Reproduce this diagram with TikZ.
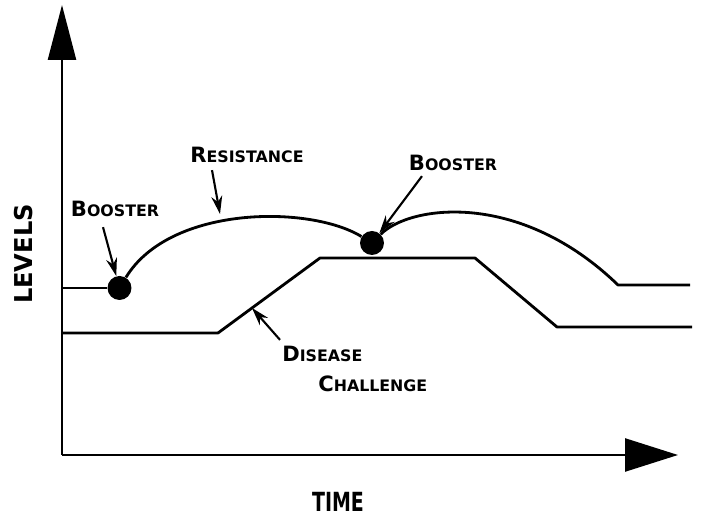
\documentclass[tikz,border=0pt]{standalone}
\usepackage{fontspec}
\setmainfont{DejaVu Sans}
\usetikzlibrary{arrows.meta, calc}
\newcommand{\capsc}[2]{{\fontsize{12}{12}\selectfont #1}{\fontsize{9}{9}\selectfont #2}}

\begin{document}
\begin{tikzpicture}[
    x=0.02cm, y=-0.02cm,
    every node/.style={font=\bfseries},
    curve/.style={line width=1.6pt, line join=round},
    axis/.style={line width=1.4pt},
    pointer/.style={line width=1.2pt, -{Stealth[length=3.6mm, width=2.2mm]}},
    dot/.style={circle, fill, inner sep=0pt, minimum size=0.48cm},
    tag/.style={inner sep=0pt},
  ]
  \useasboundingbox (0,0) rectangle (701,516);

  % axes
  \coordinate (O) at (62,455);
  \coordinate (ytip) at (62,5);
  \coordinate (xtip) at (678,455);
  \draw[axis, -{Triangle[length=1.1cm, width=0.56cm]}] (O) -- (ytip);
  \draw[axis, -{Triangle[length=1.06cm, width=0.66cm]}] (O) -- (xtip);
  \node[font=\fontsize{15}{15}\selectfont\bfseries] (time) at (338,502) {\scalebox{0.72}[1]{TIME}};
  \node[font=\fontsize{14}{14}\selectfont\bfseries, rotate=90] (levels) at (24,254) {\scalebox{0.98}[1]{LEVELS}};

  % boosters
  \node[dot] (dotA) at (119.5,288) {};
  \node[dot] (dotB) at (372,243) {};

  % resistance
  \draw[curve] (62,288) -- (dotA);
  \draw[curve] (dotA) .. controls (170,205) and (310,205) .. (dotB);
  \draw[curve] (dotB) .. controls (410,205) and (520,190) .. (618,285) -- (690,285);

  % disease challenge
  \draw[curve] (62,333) -- (218,333) -- (320,258) -- (475,258) -- (557,327) -- (692,327);

  % labels
  \node[tag] (boostA) at (115,209) {\capsc{B}{OOSTER}};
  \node[tag] (boostB) at (453,163) {\capsc{B}{OOSTER}};
  \node[tag] (resist) at (247,155) {\capsc{R}{ESISTANCE}};
  \node[tag, anchor=west] (disease) at (282,354) {\capsc{D}{ISEASE}};
  \node[tag, anchor=west] (challenge) at (318,384) {\capsc{C}{HALLENGE}};

  \coordinate (resHit) at (220,214);
  \coordinate (disHit) at (252,308);
  \draw[pointer] ($(boostA.south)+(-12,10)$) -- (dotA);
  \draw[pointer] ($(boostB.south)+(-31,5)$) -- (dotB);
  \draw[pointer] ($(resist.south)+(-35,7)$) -- (resHit);
  \draw[pointer] ($(disease.north west)+(-2,-6)$) -- (disHit);
\end{tikzpicture}
\end{document}
